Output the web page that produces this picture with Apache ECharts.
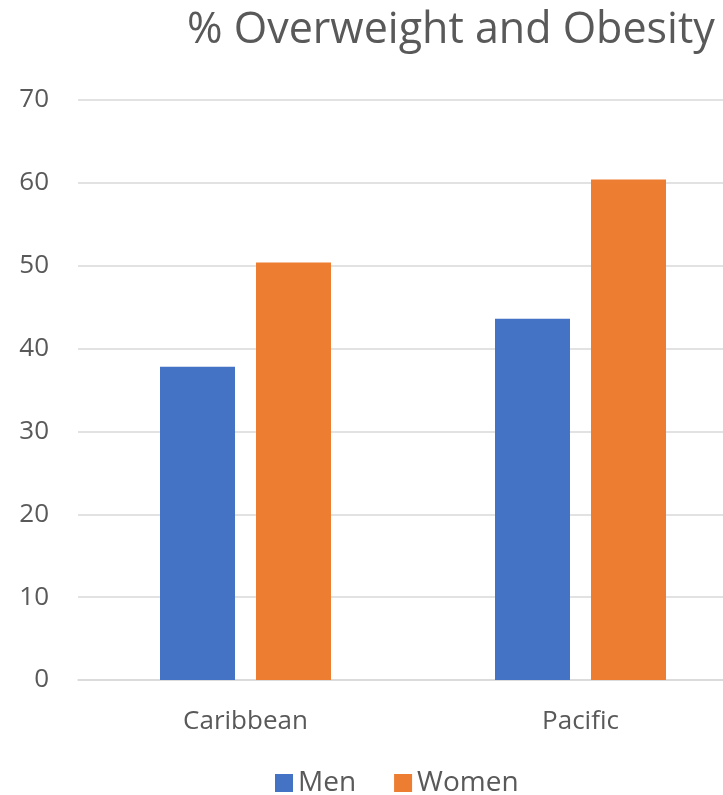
<!DOCTYPE html>
<html>
<head>
<meta charset="utf-8">
<script src="https://cdn.jsdelivr.net/npm/echarts@6/dist/echarts.min.js"></script>
<style>
  html, body { margin: 0; padding: 0; background: #fff; overflow: hidden; }
  /* the reference plot runs past the right edge, so the canvas is wider than the window */
  #chart { width: 748px; height: 795px; }
</style>
</head>
<body>
<div id="chart"></div>
<script>
const categories = ["Caribbean", "Pacific"];
const menValues = [37.8, 43.6];
const womenValues = [50.4, 60.4];
const yTicks = { min: 0, max: 70, interval: 10 };

const textColor = "#595959";
const font = "'Open Sans', 'Noto Sans', sans-serif";

const chart = echarts.init(document.getElementById("chart"));
chart.setOption({
  animation: false,
  title: {
    text: "% Overweight and Obesity",
    left: 182,
    top: 4,
    textStyle: { color: textColor, fontSize: 43, fontWeight: "normal", fontFamily: font }
  },
  legend: {
    bottom: -7,
    left: 270,
    itemWidth: 18,
    itemHeight: 18,
    itemGap: 38,
    icon: "rect",
    textStyle: { color: textColor, fontSize: 28, fontFamily: font },
    data: ["Men", "Women"]
  },
  grid: { left: 78, top: 100, right: 0, height: 580, containLabel: false },
  xAxis: {
    type: "category",
    data: categories,
    axisLine: { lineStyle: { color: "#d9d9d9", width: 1.5 } },
    axisTick: { show: false },
    axisLabel: { color: textColor, fontSize: 26, fontFamily: font, margin: 29 }
  },
  yAxis: {
    type: "value",
    min: yTicks.min,
    max: yTicks.max,
    interval: yTicks.interval,
    axisLine: { show: false },
    axisTick: { show: false },
    splitLine: { lineStyle: { color: "#d9d9d9", width: 1.5 } },
    axisLabel: { color: textColor, fontSize: 26, fontFamily: font, margin: 29 }
  },
  series: [
    {
      name: "Men",
      type: "bar",
      data: menValues,
      barWidth: 75,
      barGap: "28%",
      itemStyle: { color: "#4472c4" }
    },
    {
      name: "Women",
      type: "bar",
      data: womenValues,
      barWidth: 75,
      itemStyle: { color: "#ed7d31" }
    }
  ]
});
</script>
</body>
</html>
